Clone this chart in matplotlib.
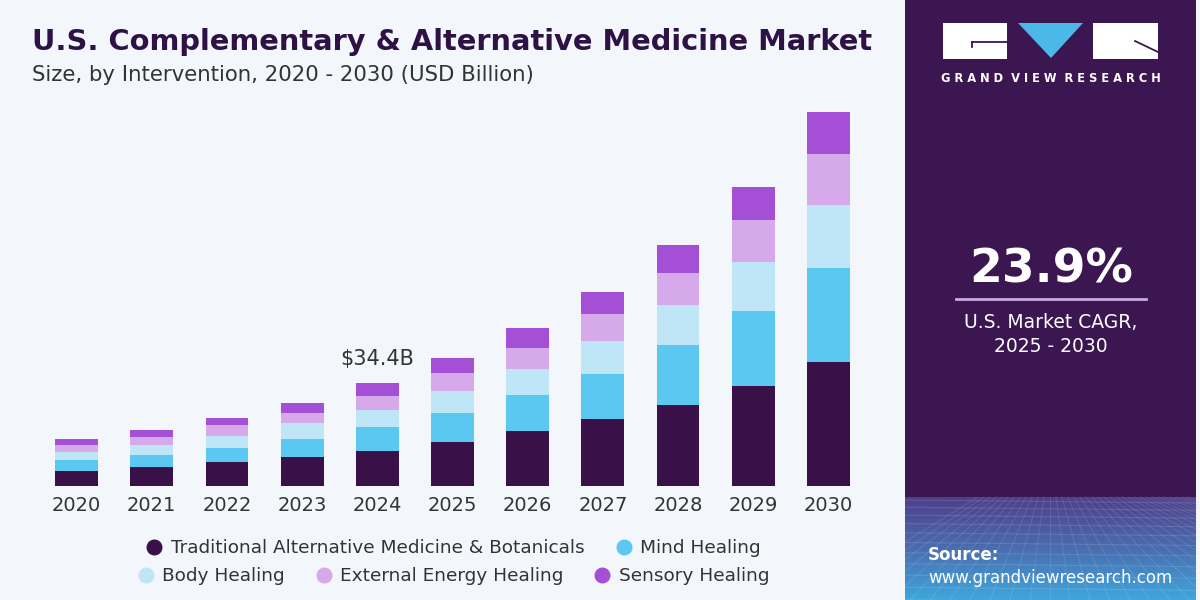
import matplotlib.pyplot as plt
import numpy as np
from matplotlib.colors import LinearSegmentedColormap
from matplotlib.lines import Line2D
from matplotlib.patches import Polygon, Rectangle

years = ['2020', '2021', '2022', '2023', '2024', '2025', '2026', '2027', '2028', '2029', '2030']
segments = [
    'Traditional Alternative Medicine & Botanicals',
    'Mind Healing',
    'Body Healing',
    'External Energy Healing',
    'Sensory Healing',
]
traditional = [5.1, 6.2, 8.0, 9.8, 11.6, 14.8, 18.2, 22.2, 27.1, 33.3, 41.4]
mind = [3.6, 4.1, 4.6, 5.8, 8.0, 9.7, 12.2, 15.2, 19.8, 25.0, 31.5]
body = [2.8, 3.3, 4.2, 5.3, 5.8, 7.1, 8.7, 11.0, 13.4, 16.6, 20.9]
external = [2.2, 2.6, 3.6, 3.5, 4.7, 6.0, 7.1, 9.0, 10.8, 13.8, 17.0]
sensory = [2.1, 2.4, 2.3, 3.3, 4.3, 5.2, 6.4, 7.3, 9.4, 11.0, 14.1]
colors = ['#3a1049', '#5bc8f2', '#bfe6f7', '#d5a9ea', '#a54fd6']

BG = '#f3f7fb'
PANEL = '#3b1650'

fig = plt.figure(figsize=(12, 6), dpi=100, facecolor=BG)

# main chart
ax = fig.add_axes([39 / 1200, 1 - 486 / 600, 827 / 1200, 389.6 / 600])
ax.set_facecolor(BG)
x = np.arange(len(years))
bottom = np.zeros(len(years))
for vals, c in zip([traditional, mind, body, external, sensory], colors):
    ax.bar(x, vals, width=0.57, bottom=bottom, color=c, linewidth=0)
    bottom += np.array(vals)

ax.set_xlim(-0.5, len(years) - 0.5)
ax.set_ylim(0, 130)
ax.set_xticks(x, years)
ax.tick_params(axis='x', length=0, pad=7, labelsize=14, labelcolor='#333333')
ax.set_yticks([])
for s in ax.spines.values():
    s.set_visible(False)

i24 = years.index('2024')
ax.annotate(f'${bottom[i24]:.1f}B', (x[i24], bottom[i24]), xytext=(0, 10),
            textcoords='offset points', ha='center', va='bottom',
            fontsize=15, color='#333333')

# titles
fig.text(32 / 1200, 1 - 42 / 600, 'U.S. Complementary & Alternative Medicine Market',
         fontsize=20.8, fontweight='bold', color='#2e1245', va='center')
fig.text(32 / 1200, 1 - 75 / 600, 'Size, by Intervention, 2020 - 2030 (USD Billion)',
         fontsize=15.3, color='#333333', va='center')

# legend in two rows
handles = [Line2D([], [], marker='o', ls='none', ms=10.5, color=c) for c in colors]
kw = dict(frameon=False, fontsize=13.3, handletextpad=0.4, columnspacing=1.6,
          labelcolor='#333333', handlelength=1.0, borderaxespad=0)
fig.legend(handles[:2], segments[:2], ncol=2, loc='center',
           bbox_to_anchor=(453 / 1200, 1 - 548 / 600), **kw)
fig.legend(handles[2:], segments[2:], ncol=3, loc='center',
           bbox_to_anchor=(453 / 1200, 1 - 576 / 600), **kw)

# right panel, pixel coordinates
px = fig.add_axes([905 / 1200, 0, 291 / 1200, 1])
px.axis('off')
px.add_patch(Rectangle((0, 0), 291, 497, color=PANEL, lw=0))
grad = np.linspace(0, 1, 100)[:, None]
cmap = LinearSegmentedColormap.from_list('g', ['#4f3f8a', '#4a6db0', '#3fa6dc'])
px.imshow(grad, cmap=cmap, extent=(0, 291, 600, 497), aspect='auto', zorder=1)
# faint mesh
for k in range(14):
    yy = 500 + 7 * k + k * k * 0.3
    px.plot([0, 291], [yy, yy + 3], color='white', alpha=0.12, lw=0.8, zorder=2)
for k in range(-12, 24):
    px.plot([145 + k * 6, 145 + k * 20], [497, 600], color='white', alpha=0.10, lw=0.8, zorder=2)
px.set_xlim(0, 291)
px.set_ylim(600, 0)

# logo
px.add_patch(Rectangle((38, 23), 64, 36, color='white', lw=0, zorder=3))
px.plot([67, 103], [42, 42], color=PANEL, lw=1.3, zorder=4)
px.plot([67, 67], [42, 47], color=PANEL, lw=1.3, zorder=4)
px.add_patch(Polygon([(113, 23), (178, 23), (146, 58)], closed=True, color='#4cb8ea', lw=0, zorder=3))
px.add_patch(Rectangle((188, 23), 65, 36, color='white', lw=0, zorder=3))
px.plot([230, 253], [41, 52], color=PANEL, lw=1.3, zorder=4)
px.text(146, 79, 'G R A N D  V I E W  R E S E A R C H', ha='center', va='center',
        fontsize=8.3, fontweight='bold', color='white', zorder=4)

px.text(146, 270, '23.9%', ha='center', va='center', fontsize=34,
        fontweight='bold', color='white', zorder=4)
px.plot([51, 241], [299, 299], color='#c9a9e2', lw=2, zorder=4)
px.text(146, 322, 'U.S. Market CAGR,', ha='center', va='center', fontsize=13.5, color='white', zorder=4)
px.text(146, 347, '2025 - 2030', ha='center', va='center', fontsize=13.5, color='white', zorder=4)

px.text(23, 555, 'Source:', ha='left', va='center', fontsize=12, fontweight='bold', color='white', zorder=4)
px.text(23, 578, 'www.grandviewresearch.com', ha='left', va='center', fontsize=12, color='white', zorder=4)

fig.savefig('out.png', dpi=100, facecolor=BG)
